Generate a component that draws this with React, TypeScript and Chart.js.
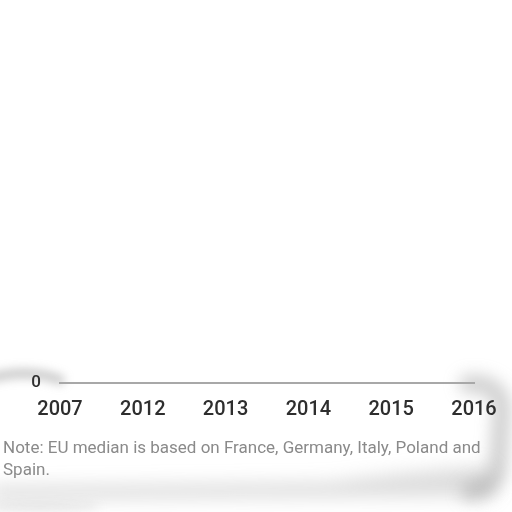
import React, { useRef, useEffect } from 'react';
import { Chart, registerables, Plugin } from 'chart.js';

Chart.register(...registerables);

// categories along the bottom axis
const years: string[] = ['2007', '2012', '2013', '2014', '2015', '2016'];
// the series itself lies above the visible strip, nothing of it shows
const medianValues: (number | null)[] = [null, null, null, null, null, null];
// only tick label shown on the value axis
const yTicks: number[] = [0];
const noteLines: string[] = [
    'Note: EU median is based on France, Germany, Italy, Poland and',
    'Spain.',
];

// torn paper shading behind the chart
const paperShade: Plugin<'line'> = {
    id: 'paperShade',
    beforeDraw(chart) {
        const { ctx, width, height } = chart;
        ctx.save();
        ctx.fillStyle = '#ffffff';
        ctx.fillRect(0, 0, width, height);
        ctx.lineCap = 'round';
        ctx.lineJoin = 'round';

        // top-left curl
        ctx.filter = 'blur(5px)';
        ctx.strokeStyle = 'rgba(120,120,120,0.38)';
        ctx.lineWidth = 10;
        ctx.beginPath();
        ctx.moveTo(-10, 378);
        ctx.quadraticCurveTo(30, 368, 60, 380);
        ctx.stroke();

        // right edge
        ctx.filter = 'blur(8px)';
        ctx.strokeStyle = 'rgba(130,130,130,0.38)';
        ctx.lineWidth = 18;
        ctx.beginPath();
        ctx.moveTo(468, 384);
        ctx.quadraticCurveTo(500, 382, 502, 408);
        ctx.lineTo(498, 470);
        ctx.quadraticCurveTo(494, 488, 470, 492);
        ctx.stroke();

        // bottom edge band, heavier to the right
        ctx.filter = 'blur(9px)';
        ctx.fillStyle = 'rgba(150,150,150,0.32)';
        ctx.beginPath();
        ctx.moveTo(-10, 486);
        ctx.quadraticCurveTo(200, 484, 330, 482);
        ctx.quadraticCurveTo(420, 470, 490, 466);
        ctx.lineTo(495, 496);
        ctx.lineTo(-10, 500);
        ctx.closePath();
        ctx.fill();

        // faint smudge below the tear
        ctx.filter = 'blur(5px)';
        ctx.fillStyle = 'rgba(170,170,170,0.22)';
        ctx.beginPath();
        ctx.ellipse(40, 507, 60, 5, 0, 0, Math.PI * 2);
        ctx.fill();

        ctx.restore();
    },
    afterDraw(chart) {
        const { ctx } = chart;
        ctx.save();
        ctx.fillStyle = '#8a8a8a';
        ctx.textBaseline = 'alphabetic';
        ctx.textAlign = 'left';
        let size = 16;
        ctx.font = `${size}px Roboto`;
        const w = ctx.measureText(noteLines[0]).width;
        size = Math.min(17, size * (482 / w));
        ctx.font = `${size}px Roboto`;
        noteLines.forEach((line, i) => {
            ctx.fillText(line, 3, 453 + i * 22);
        });
        ctx.restore();
    },
};

const App: React.FC = () => {
    const chartRef = useRef<HTMLCanvasElement>(null);
    const chartInstance = useRef<Chart | null>(null);

    useEffect(() => {
        document.body.style.margin = '0';
        if (chartRef.current) {
            if (chartInstance.current) {
                chartInstance.current.destroy();
            }
            const ctx = chartRef.current.getContext('2d');
            chartInstance.current = new Chart(ctx!, {
                type: 'line',
                data: {
                    labels: years,
                    datasets: [
                        {
                            label: 'EU median',
                            data: medianValues,
                            borderColor: '#c0802a',
                            pointRadius: 0,
                        },
                    ],
                },
                options: {
                    animation: false,
                    responsive: false,
                    layout: { padding: { top: 10, left: 0, right: 38, bottom: 0 } },
                    plugins: {
                        legend: { display: false },
                        tooltip: { enabled: false },
                    },
                    scales: {
                        x: {
                            offset: false,
                            grid: { display: false, drawTicks: false },
                            border: { display: true, color: '#a8a8a8', width: 2 },
                            ticks: {
                                padding: 15,
                                color: '#2e2e2e',
                                maxRotation: 0,
                                autoSkip: false,
                                font: { family: 'Roboto', size: 20, weight: 500 },
                            },
                            afterFit: (scale) => {
                                scale.height = 129;
                            },
                        },
                        y: {
                            min: 0,
                            max: 100,
                            grid: { display: false, drawTicks: false },
                            border: { display: false },
                            ticks: {
                                padding: 19,
                                color: '#2e2e2e',
                                font: { family: 'Roboto', size: 17, weight: 500 },
                            },
                            afterBuildTicks: (scale) => {
                                scale.ticks = yTicks.map((v) => ({ value: v }));
                            },
                            afterFit: (scale) => {
                                scale.width = 60;
                            },
                        },
                    },
                },
                plugins: [paperShade],
            });
        }
        return () => {
            if (chartInstance.current) {
                chartInstance.current.destroy();
                chartInstance.current = null;
            }
        };
    }, []);

    return (
        <div style={{ width: 512, height: 512 }}>
            <canvas ref={chartRef} width={512} height={512} />
        </div>
    );
};

export default App;
